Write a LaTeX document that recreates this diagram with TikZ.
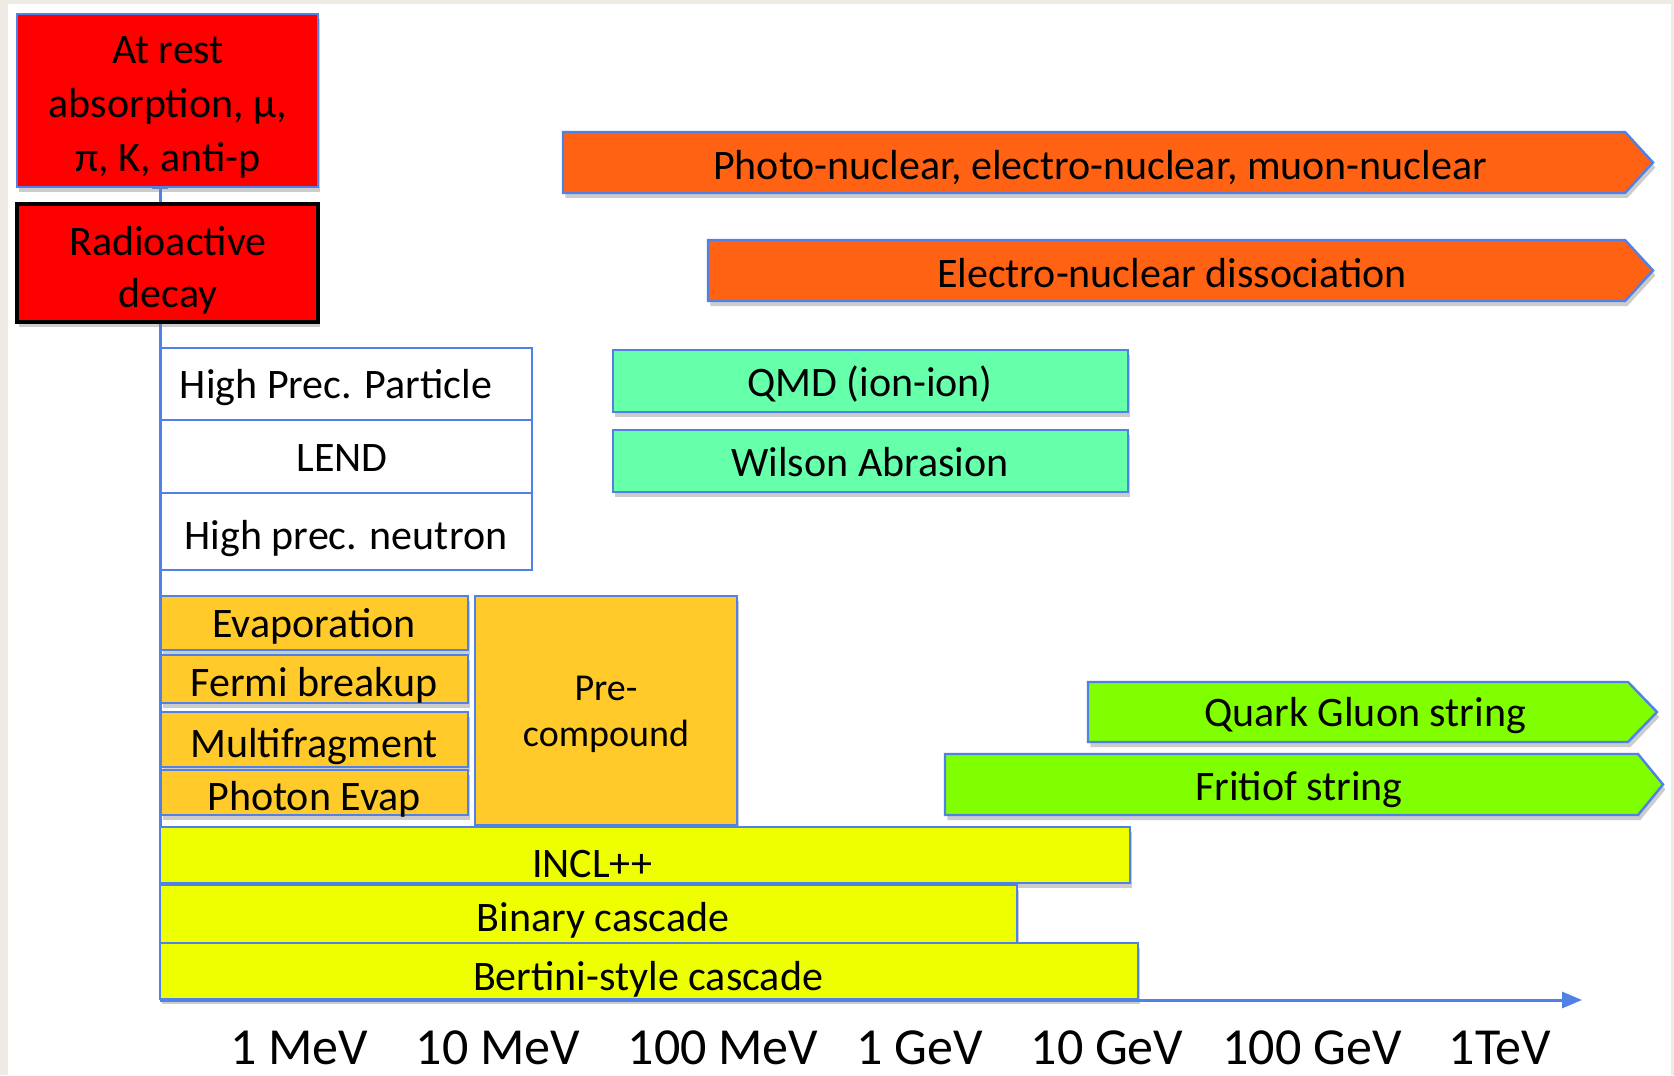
\documentclass[tikz,border=0pt]{standalone}
\usepackage{fontspec}
\setmainfont{Carlito}
\usetikzlibrary{arrows.meta,shadows}
\definecolor{axisblue}{RGB}{79,129,230}
\definecolor{framegrey}{RGB}{237,235,228}
\definecolor{hotred}{RGB}{255,0,0}
\definecolor{burnt}{RGB}{255,98,18}
\definecolor{aqua}{RGB}{102,255,170}
\definecolor{gold}{RGB}{255,202,42}
\definecolor{lemon}{RGB}{238,255,0}
\definecolor{lime}{RGB}{128,255,0}
\begin{document}
\begin{tikzpicture}[x=0.5pt,y=0.5pt,yscale=-1,
  every node/.style={font=\fontsize{21}{27}\selectfont,inner sep=0pt,align=center},
  box/.style={draw=axisblue,line width=1.2pt},
  shade/.style={drop shadow={opacity=0.4,shadow xshift=1.2pt,shadow yshift=-2.5pt}},
  redbox/.style={box,shade,fill=hotred},
  arrowbox/.style={box,shade,fill=burnt},
  aquabox/.style={box,shade,fill=aqua},
  goldbox/.style={box,shade,fill=gold},
  lemonbox/.style={box,shade,fill=lemon},
  limebox/.style={box,shade,fill=lime},
  tick/.style={font=\fontsize{26}{30}\selectfont,anchor=base}]
\useasboundingbox (0,0) rectangle (1674,1075);
\fill[framegrey] (0,0) rectangle (1674,1075);
\fill[white] (8,4) rectangle (1671,1075);
% energy axis (vertical part)
\draw[axisblue,line width=1.5pt] (152,188) -- (168,188);
\draw[axisblue,line width=1.5pt] (160,188) -- (160,1000);
% stopping particles
\draw[redbox] (17,14) rectangle (318,187);
\node (atrest) at (168,107) {At rest\\absorption, μ,\\π, K, anti-p};
\draw[redbox,draw=black,line width=2pt] (17,204) rectangle (318,322);
\node[font=\fontsize{21}{26}\selectfont] (decay) at (168,270) {Radioactive\\decay};
% lepto-nuclear
\draw[arrowbox] (563,132) -- (1625,132) -- (1653,162.5) -- (1625,193) -- (563,193) -- cycle;
\node (photo) at (1100,168) {Photo-nuclear, electro-nuclear, muon-nuclear};
\draw[arrowbox] (708,240) -- (1625,240) -- (1653,270.5) -- (1625,301) -- (708,301) -- cycle;
\node (dissoc) at (1172,273) {Electro-nuclear dissociation};
% data driven
\draw[box,fill=white] (161,348) rectangle (532,420);
\node (hpp) at (336,388) {High Prec. Particle};
\draw[box,fill=white] (161,420) rectangle (532,493);
\node (lend) at (342,458) {LEND};
\draw[box,fill=white] (161,493) rectangle (532,570);
\node (hpn) at (346,539) {High prec. neutron};
% ion-ion
\draw[aquabox] (613,350) rectangle (1128,412);
\node (qmd) at (870,384) {QMD (ion-ion)};
\draw[aquabox] (613,430) rectangle (1128,492);
\node (wilson) at (870,462) {Wilson Abrasion};
% de-excitation
\draw[goldbox] (161,596) rectangle (468,650);
\node (evap) at (314,626) {Evaporation};
\draw[goldbox] (161,655) rectangle (468,703);
\node (fermi) at (314,685) {Fermi breakup};
\draw[goldbox] (161,712) rectangle (468,767);
\node (multi) at (314,747) {Multifragment};
\draw[goldbox] (161,770) rectangle (468,815);
\node (photon) at (314,799) {Photon Evap};
\draw[goldbox] (475,596) rectangle (737,825);
\node[font=\fontsize{19}{23}\selectfont] (precomp) at (606,714) {Pre-\\compound};
% strings
\draw[limebox] (1088,682) -- (1628,682) -- (1657,712) -- (1628,742) -- (1088,742) -- cycle;
\node (qgs) at (1365,716) {Quark Gluon string};
\draw[limebox] (945,754) -- (1638,754) -- (1663,784.5) -- (1638,815) -- (945,815) -- cycle;
\node (ftf) at (1299,790) {Fritiof string};
% cascades
\draw[lemonbox] (160,827) rectangle (1130,883);
\node (incl) at (592,864) {INCL++};
\draw[lemonbox] (160,885) rectangle (1017,943);
\node (binary) at (603,920) {Binary cascade};
\draw[lemonbox] (160,943) rectangle (1138,999);
\node (bertini) at (648,979) {Bertini-style cascade};
% energy axis (horizontal part)
\draw[axisblue,line width=1.5pt,-{Triangle[length=10pt,width=8pt]}] (160,1000) -- (1582,1000);
\node[tick] (e1) at (299,1064) {1 MeV};
\node[tick] (e2) at (498,1064) {10 MeV};
\node[tick] (e3) at (723,1064) {100 MeV};
\node[tick] (e4) at (920,1064) {1 GeV};
\node[tick] (e5) at (1107,1064) {10 GeV};
\node[tick] (e6) at (1312,1064) {100 GeV};
\node[tick] (e7) at (1500,1064) {1TeV};
\end{tikzpicture}
\end{document}
